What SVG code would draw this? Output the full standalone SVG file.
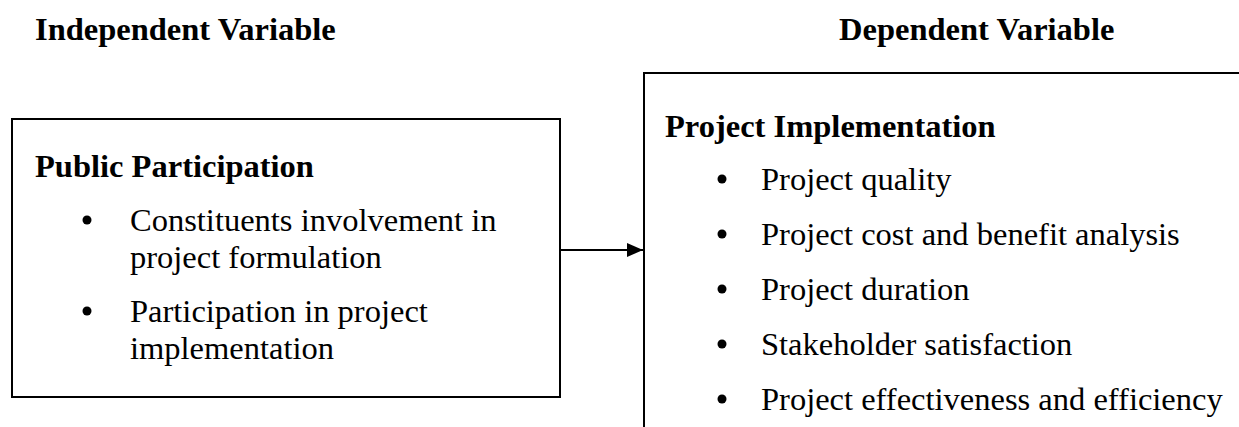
<svg xmlns="http://www.w3.org/2000/svg" width="1239" height="427" viewBox="0 0 1239 427">
  <style>
    text { font-family: "Liberation Serif", "Times New Roman", serif; font-size: 32.5px; fill: #000; }
    .head { font-weight: bold; }
    .box { fill: none; stroke: #000; stroke-width: 2; }
    .edge { stroke: #000; stroke-width: 2; fill: none; }
  </style>
  <defs>
    <marker id="arrowhead" markerWidth="16" markerHeight="14" refX="16" refY="7" orient="auto" markerUnits="userSpaceOnUse">
      <path d="M0,0 L16,7 L0,14 Z" fill="#000"/>
    </marker>
  </defs>

  <!-- column headings -->
  <text class="head" x="35" y="40">Independent Variable</text>
  <text class="head" x="839" y="40">Dependent Variable</text>

  <!-- independent variable -->
  <g id="public-participation">
    <rect class="box" x="12" y="119" width="548" height="278"/>
    <text class="head" x="35" y="177">Public Participation</text>
    <circle cx="87" cy="220" r="4.5"/>
    <text x="130" y="231">Constituents involvement in</text>
    <text x="130" y="268">project formulation</text>
    <circle cx="87" cy="311" r="4.5"/>
    <text x="130" y="322">Participation in project</text>
    <text x="130" y="359">implementation</text>
  </g>

  <!-- dependent variable (box runs past the page edge) -->
  <g id="project-implementation">
    <path class="box" d="M1240,73 H644 V428"/>
    <text class="head" x="665" y="137">Project Implementation</text>
    <circle cx="722" cy="179" r="4.5"/>
    <text x="761" y="190">Project quality</text>
    <circle cx="722" cy="234" r="4.5"/>
    <text x="761" y="245">Project cost and benefit analysis</text>
    <circle cx="722" cy="289" r="4.5"/>
    <text x="761" y="300">Project duration</text>
    <circle cx="722" cy="344" r="4.5"/>
    <text x="761" y="355">Stakeholder satisfaction</text>
    <circle cx="722" cy="399" r="4.5"/>
    <text x="761" y="410">Project effectiveness and efficiency</text>
  </g>

  <g id="connectors">
    <line class="edge" x1="560" y1="250" x2="643" y2="250" marker-end="url(#arrowhead)"/>
  </g>
</svg>
